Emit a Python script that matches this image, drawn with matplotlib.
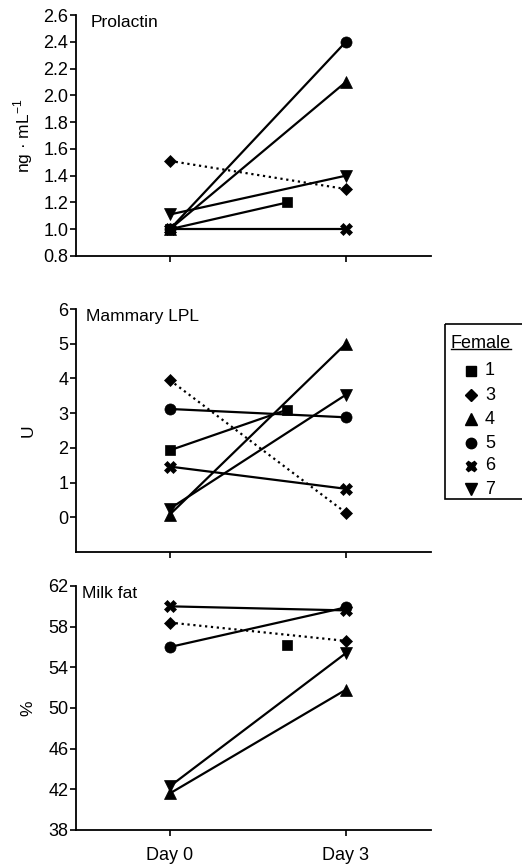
import matplotlib
matplotlib.use("Agg")
import matplotlib.pyplot as plt
import numpy as np
from matplotlib.lines import Line2D
from matplotlib.patches import Rectangle

plt.rcParams['font.family'] = ['Liberation Sans', 'DejaVu Sans']
plt.rcParams['mathtext.fontset'] = 'custom'
plt.rcParams['mathtext.rm'] = 'Liberation Sans'

# ---- data ----
females = ["1", "3", "4", "5", "6", "7"]
markers = ["s", "D", "^", "o", "X", "v"]
days = [0, 3]
female1_days = [0, 2]
day_labels = ["Day 0", "Day 3"]

prolactin = {
    "1": [1.00, 1.20],
    "3": [1.51, 1.30],
    "4": [1.00, 2.10],
    "5": [1.00, 2.40],
    "6": [1.00, 1.00],
    "7": [1.11, 1.40],
}
lpl = {
    "1": [1.93, 3.10],
    "3": [3.95, 0.13],
    "4": [0.08, 5.00],
    "5": [3.12, 2.88],
    "6": [1.46, 0.82],
    "7": [0.25, 3.53],
}
milkfat = {
    "1": [np.nan, 56.2],
    "3": [58.4, 56.6],
    "4": [41.6, 51.8],
    "5": [56.0, 59.9],
    "6": [60.0, 59.6],
    "7": [42.3, 55.4],
}

panels = [
    ("Prolactin", prolactin, r"ng · mL$^{\mathregular{-1}}$", (0.8, 2.6), np.arange(0.8, 2.61, 0.2), "{:.1f}", 0.042),
    ("Mammary LPL", lpl, "U", (-1, 6), np.arange(0, 7, 1), "{:.0f}", 0.028),
    ("Milk fat", milkfat, "%", (38, 62), np.arange(38, 63, 4), "{:.0f}", 0.018),
]

FS = 12.5
TFS = 13
W, H = 522, 866
fig = plt.figure(figsize=(W / 100, H / 100), dpi=100)
positions = [
    [76 / W, 1 - 256 / H, 355 / W, 241 / H],
    [76 / W, 1 - 552 / H, 355 / W, 243 / H],
    [76 / W, 1 - 830 / H, 355 / W, 244 / H],
]

def msize(m):
    return {"s": 7, "D": 6.5, "^": 8.5, "o": 8, "X": 8, "v": 8.5}[m]

for i, (title, data, ylabel, ylim, yticks, fmt, tx) in enumerate(panels):
    ax = fig.add_axes(positions[i])
    for f, m in zip(females, markers):
        xs = female1_days if f == "1" else days
        ls = ":" if f == "3" else "-"
        ax.plot(xs, data[f], linestyle=ls, color="black", lw=1.6,
                marker=m, markersize=msize(m), markerfacecolor="black",
                markeredgecolor="black", markeredgewidth=0.5)
    ax.set_xlim(-1.6, 4.45)
    ax.set_ylim(*ylim)
    ax.set_yticks(yticks)
    ax.set_yticklabels([fmt.format(v) for v in yticks])
    ax.set_xticks(days)
    if i == 2:
        ax.set_xticklabels(day_labels)
    else:
        ax.set_xticklabels([])
    for s in ("top", "right"):
        ax.spines[s].set_visible(False)
    for s in ("left", "bottom"):
        ax.spines[s].set_linewidth(1.3)
    ax.tick_params(axis="both", direction="out", length=4, width=1.2,
                   labelsize=TFS, colors="black", pad=1.5)
    ax.tick_params(axis="x", pad=8)
    ax.set_ylabel(ylabel, fontsize=FS)
    ax.yaxis.set_label_coords(-0.115, 0.5)
    ax.text(tx, 1 - 7.5 / (positions[i][3] * H), title, transform=ax.transAxes,
            fontsize=FS, ha="left", va="center")

# ---- legend (drawn in a helper axes in pixel units) ----
lx0, ly0, ly1 = 445, 324, 499
lax = fig.add_axes([lx0 / W, 1 - ly1 / H, 100 / W, (ly1 - ly0) / H])
lax.set_xlim(lx0, lx0 + 100)
lax.set_ylim(ly1, ly0)
lax.axis("off")
lax.add_patch(Rectangle((lx0, ly0), 100, ly1 - ly0, fill=False, edgecolor="black",
                        lw=1.2, clip_on=False))
ttl = lax.text(451, 343, "Female", fontsize=TFS, ha="left", va="center")
leg_y = [371, 395, 419, 443, 466, 489]
for f, m, yy in zip(females, markers, leg_y):
    lax.plot([471], [yy], linestyle="none", marker=m, color="black",
             markersize=msize(m) - 0.5)
    lax.text(485, yy, f, fontsize=TFS, ha="left", va="center")

fig.canvas.draw()
bb = ttl.get_window_extent()
inv = lax.transData.inverted()
(ux0, _), (ux1, _) = inv.transform([[bb.x0, bb.y0], [bb.x1, bb.y0]])
lax.plot([ux0, ux1], [349.5, 349.5], color="black", lw=1.0)

fig.savefig("out.png", dpi=100)
